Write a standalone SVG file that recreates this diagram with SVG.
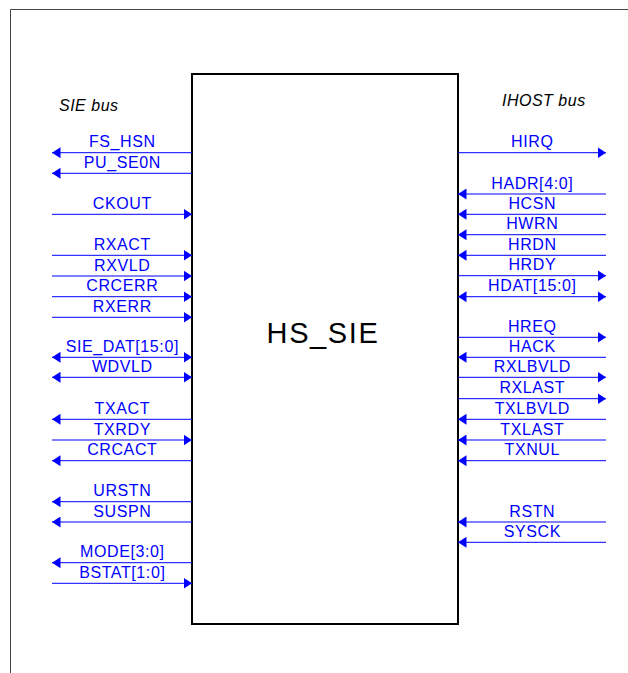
<svg xmlns="http://www.w3.org/2000/svg" width="628" height="673" viewBox="0 0 628 673">
<style>
.frame{fill:none;stroke:#444;stroke-width:1}
.box{fill:#fff;stroke:#000;stroke-width:2}
.sig{stroke:#0000ff;stroke-width:1;fill:none;marker-end:url(#ah)}
.bi{marker-start:url(#ah)}
.lbl{font-family:"Liberation Sans",Arial,sans-serif;font-size:16px;fill:#0000ff;text-anchor:middle;letter-spacing:0.6px}
.bus{font-family:"Liberation Sans",Arial,sans-serif;font-size:16px;font-style:italic;fill:#000;letter-spacing:0.5px}
.title{font-family:"Liberation Sans",Arial,sans-serif;font-size:29px;fill:#000;text-anchor:middle;letter-spacing:1.6px}
</style>
<defs>
<marker id="ah" viewBox="0 0 8.5 11" refX="8.5" refY="5.5" markerWidth="8.5" markerHeight="11" markerUnits="userSpaceOnUse" orient="auto-start-reverse">
<path d="M0,0 L8.5,5.5 L0,11 z" fill="#0000ff"/>
</marker>
</defs>
<rect width="628" height="673" fill="#fff"/>
<path class="frame" d="M10.5,673 V9.5 H628"/>
<g id="hs_sie">
<rect class="box" x="192" y="74" width="266" height="550"/>
<text class="title" x="323" y="343">HS_SIE</text>
</g>
<g id="sie_bus_label"><text class="bus" x="59" y="111">SIE bus</text></g>
<g id="ihost_bus_label"><text class="bus" x="502" y="106">IHOST bus</text></g>
<g id="connectors">
<line class="sig" x1="192" y1="152.7" x2="52" y2="152.7"/>
<line class="sig" x1="192" y1="173.3" x2="52" y2="173.3"/>
<line class="sig" x1="52" y1="214.3" x2="192" y2="214.3"/>
<line class="sig" x1="52" y1="255.3" x2="192" y2="255.3"/>
<line class="sig" x1="52" y1="276" x2="192" y2="276"/>
<line class="sig" x1="52" y1="296.7" x2="192" y2="296.7"/>
<line class="sig" x1="52" y1="317.3" x2="192" y2="317.3"/>
<line class="sig bi" x1="52" y1="357.3" x2="192" y2="357.3"/>
<line class="sig bi" x1="52" y1="377.3" x2="192" y2="377.3"/>
<line class="sig" x1="192" y1="419.3" x2="52" y2="419.3"/>
<line class="sig" x1="52" y1="440" x2="192" y2="440"/>
<line class="sig" x1="192" y1="460.7" x2="52" y2="460.7"/>
<line class="sig" x1="192" y1="501.7" x2="52" y2="501.7"/>
<line class="sig" x1="192" y1="522" x2="52" y2="522"/>
<line class="sig" x1="192" y1="562.7" x2="52" y2="562.7"/>
<line class="sig" x1="52" y1="583.3" x2="192" y2="583.3"/>

<line class="sig" x1="458" y1="152.7" x2="606" y2="152.7"/>
<line class="sig" x1="606" y1="194" x2="458" y2="194"/>
<line class="sig" x1="606" y1="214.3" x2="458" y2="214.3"/>
<line class="sig" x1="606" y1="234.7" x2="458" y2="234.7"/>
<line class="sig" x1="606" y1="255.3" x2="458" y2="255.3"/>
<line class="sig" x1="458" y1="275.7" x2="606" y2="275.7"/>
<line class="sig bi" x1="458" y1="296.7" x2="606" y2="296.7"/>
<line class="sig" x1="458" y1="337.3" x2="606" y2="337.3"/>
<line class="sig" x1="606" y1="357.3" x2="458" y2="357.3"/>
<line class="sig" x1="458" y1="377.3" x2="606" y2="377.3"/>
<line class="sig" x1="458" y1="398.7" x2="606" y2="398.7"/>
<line class="sig" x1="606" y1="419.3" x2="458" y2="419.3"/>
<line class="sig" x1="606" y1="440" x2="458" y2="440"/>
<line class="sig" x1="606" y1="460.7" x2="458" y2="460.7"/>
<line class="sig" x1="606" y1="522" x2="458" y2="522"/>
<line class="sig" x1="606" y1="542.3" x2="458" y2="542.3"/>
</g>
<g id="signal_labels">
<text class="lbl" x="122.3" y="147.2">FS_HSN</text>
<text class="lbl" x="122.3" y="167.8">PU_SE0N</text>
<text class="lbl" x="122.3" y="208.8">CKOUT</text>
<text class="lbl" x="122.3" y="249.8">RXACT</text>
<text class="lbl" x="122.3" y="270.5">RXVLD</text>
<text class="lbl" x="122.3" y="291.2">CRCERR</text>
<text class="lbl" x="122.3" y="311.8">RXERR</text>
<text class="lbl" x="122.3" y="351.8">SIE_DAT[15:0]</text>
<text class="lbl" x="122.3" y="371.8">WDVLD</text>
<text class="lbl" x="122.3" y="413.8">TXACT</text>
<text class="lbl" x="122.3" y="434.5">TXRDY</text>
<text class="lbl" x="122.3" y="455.2">CRCACT</text>
<text class="lbl" x="122.3" y="496.2">URSTN</text>
<text class="lbl" x="122.3" y="516.5">SUSPN</text>
<text class="lbl" x="122.3" y="557.2">MODE[3:0]</text>
<text class="lbl" x="122.3" y="577.8">BSTAT[1:0]</text>

<text class="lbl" x="532.3" y="147.2">HIRQ</text>
<text class="lbl" x="532.3" y="188.5">HADR[4:0]</text>
<text class="lbl" x="532.3" y="208.8">HCSN</text>
<text class="lbl" x="532.3" y="229.2">HWRN</text>
<text class="lbl" x="532.3" y="249.8">HRDN</text>
<text class="lbl" x="532.3" y="270.2">HRDY</text>
<text class="lbl" x="532.3" y="291.2">HDAT[15:0]</text>
<text class="lbl" x="532.3" y="331.8">HREQ</text>
<text class="lbl" x="532.3" y="351.8">HACK</text>
<text class="lbl" x="532.3" y="371.8">RXLBVLD</text>
<text class="lbl" x="532.3" y="393.2">RXLAST</text>
<text class="lbl" x="532.3" y="413.8">TXLBVLD</text>
<text class="lbl" x="532.3" y="434.5">TXLAST</text>
<text class="lbl" x="532.3" y="455.2">TXNUL</text>
<text class="lbl" x="532.3" y="516.5">RSTN</text>
<text class="lbl" x="532.3" y="536.8">SYSCK</text>
</g>
</svg>
